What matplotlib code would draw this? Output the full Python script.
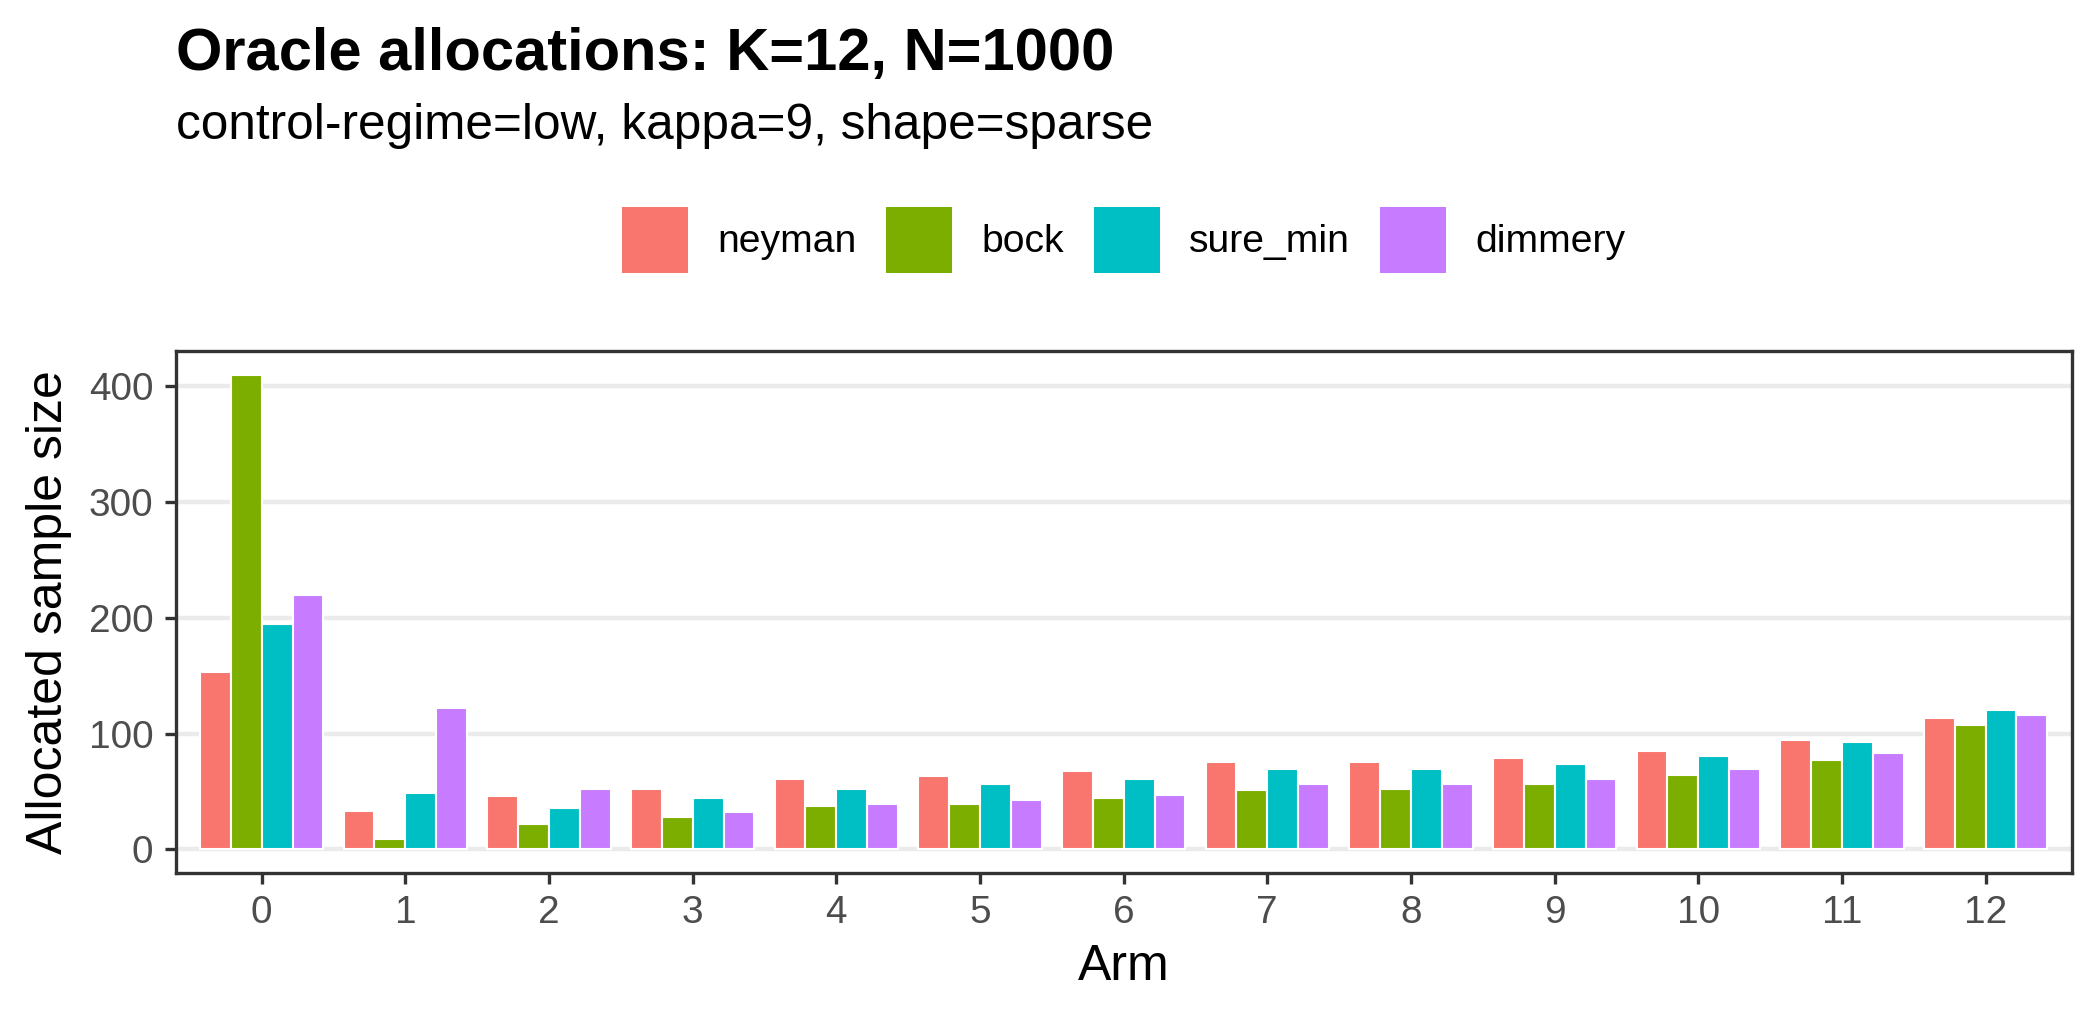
import numpy as np
import matplotlib
matplotlib.use("Agg")
import matplotlib.pyplot as plt
from matplotlib.patches import Patch

plt.rcParams['font.family'] = ['Liberation Sans', 'DejaVu Sans']

arms = [str(i) for i in range(13)]
methods = ["neyman", "bock", "sure_min", "dimmery"]
neyman = [153, 33, 46, 52, 61, 63, 68, 75, 75, 79, 85, 94, 113]
bock = [410, 9, 22, 28, 37, 39, 44, 51, 52, 56, 64, 77, 107]
sure_min = [195, 49, 36, 44, 52, 56, 61, 69, 69, 74, 81, 93, 120]
dimmery = [220, 122, 52, 32, 39, 43, 47, 56, 56, 61, 69, 83, 116]
colors = ["#F8766D", "#7CAE00", "#00BFC4", "#C77CFF"]

title = "Oracle allocations: K=12, N=1000"
subtitle = "control-regime=low, kappa=9, shape=sparse"
xlabel = "Arm"
ylabel = "Allocated sample size"
yticks = [0, 100, 200, 300, 400]

W, H = 2100, 1020
fig = plt.figure(figsize=(7, 3.4), dpi=300)
L, R, T, B = 175.5, 2071.8, 351, 873
ax = fig.add_axes([L / W, 1 - B / H, (R - L) / W, (B - T) / H])

series = [neyman, bock, sure_min, dimmery]
x = np.arange(len(arms))
group_w = 0.86
bw = group_w / len(series)
for i, (vals, c) in enumerate(zip(series, colors)):
    off = -group_w / 2 + bw * (i + 0.5)
    ax.bar(x + off, vals, width=bw, color=c, edgecolor="white", linewidth=0.5, zorder=3)

ymax = max(max(s) for s in series)
ax.set_ylim(-0.05 * ymax, 1.05 * ymax)
ax.set_xlim(-0.6, len(arms) - 1 + 0.6)
ax.set_xticks(x)
ax.set_xticklabels(arms)
ax.set_yticks(yticks)
ax.yaxis.grid(True, color="#EBEBEB", linewidth=1.07, zorder=0)
ax.xaxis.grid(False)
ax.set_axisbelow(True)
for s in ax.spines.values():
    s.set_color("#333333")
    s.set_linewidth(0.8)
ax.tick_params(axis="both", length=2.75, width=0.8, color="#333333",
               labelcolor="#4D4D4D", labelsize=9.3, pad=2.6)
ax.set_xlabel(xlabel, fontsize=12, color="black", labelpad=3)
ax.set_ylabel(ylabel, fontsize=12, color="black", labelpad=4)

fig.text(L / W, 1 - 69.6 / H, title, fontsize=14.3, fontweight="bold", ha="left", va="baseline")
fig.text(L / W, 1 - 139 / H, subtitle, fontsize=11.9, ha="left", va="baseline")

handles = [Patch(facecolor=c, edgecolor="none") for c in colors]
fs = 9.4
em = fs * 300 / 72
key = 66 / em
hh = (key - 0.245) / 0.65
fig.legend(handles, methods, loc="center", bbox_to_anchor=(((L + R) / 2) / W, 1 - 240 / H),
           ncol=4, frameon=False, fontsize=fs, handlelength=key, handleheight=hh,
           handletextpad=29 / em, columnspacing=30 / em, borderpad=0, borderaxespad=0)

fig.savefig("out.png", dpi=300, facecolor="white")
